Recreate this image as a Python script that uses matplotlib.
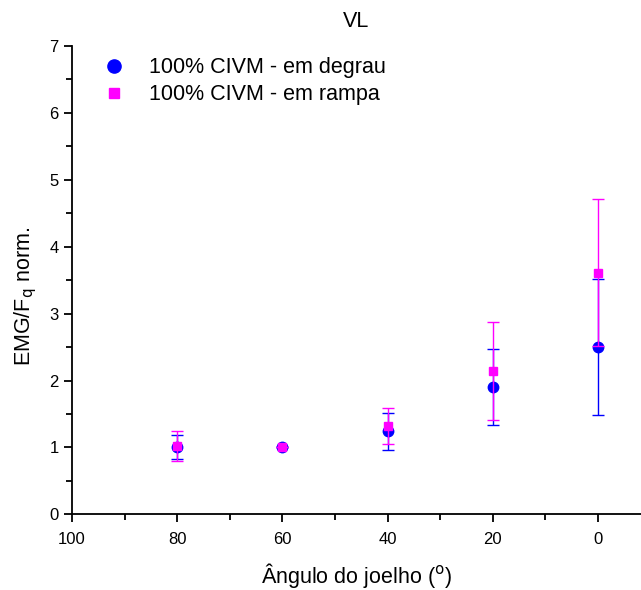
import matplotlib
matplotlib.use("Agg")
import matplotlib.pyplot as plt
from matplotlib.lines import Line2D
from matplotlib.ticker import MultipleLocator

plt.rcParams['font.family'] = ['Liberation Sans', 'DejaVu Sans']

# Knee angle (degrees)
angles = [80, 60, 40, 20, 0]

# 100% CIVM - step protocol
degrau_mean = [1.01, 1.00, 1.24, 1.90, 2.50]
degrau_err = [0.18, 0.00, 0.28, 0.57, 1.02]

# 100% CIVM - ramp protocol
rampa_mean = [1.02, 1.00, 1.32, 2.14, 3.61]
rampa_err = [0.22, 0.00, 0.27, 0.73, 1.10]

labels = ['100% CIVM - em degrau', '100% CIVM - em rampa']
blue = '#0000ff'
magenta = '#ff00ff'

fig = plt.figure(figsize=(6.41, 5.90), dpi=100)
ax = fig.add_axes([0.1123, 0.1283, 0.8877, 0.7937])

ax.errorbar(angles, degrau_mean, yerr=degrau_err, fmt='o', color=blue,
            ecolor=blue, markersize=7.5, capsize=4, elinewidth=1.0,
            capthick=1.0, zorder=3)
ax.errorbar(angles, rampa_mean, yerr=rampa_err, fmt='s', color=magenta,
            ecolor=magenta, markersize=6.3, capsize=4, elinewidth=1.0,
            capthick=1.0, zorder=4)

ax.set_xlim(100, -8.2)
ax.set_ylim(0, 7)
ax.xaxis.set_major_locator(MultipleLocator(20))
ax.xaxis.set_minor_locator(MultipleLocator(10))
ax.yaxis.set_major_locator(MultipleLocator(1))
ax.yaxis.set_minor_locator(MultipleLocator(0.5))

for side in ('top', 'right'):
    ax.spines[side].set_visible(False)
for side in ('left', 'bottom'):
    ax.spines[side].set_linewidth(1.3)

ax.tick_params(which='major', direction='out', length=6, width=1.3,
               labelsize=12)
ax.tick_params(axis='x', which='major', pad=6.5)
ax.tick_params(which='minor', direction='out', length=4, width=1.3)

ax.set_xlabel('Ângulo do joelho ($^{\\rm o}$)', fontsize=15.5, labelpad=10)
ax.set_ylabel('EMG/F$_{\\rm q}$ norm.', fontsize=15.5)
ax.yaxis.set_label_coords(-0.058, 0.466)
ax.set_title('VL', fontsize=15.5, pad=14)

handles = [
    Line2D([], [], linestyle='none', marker='o', markersize=9.5,
           color=blue),
    Line2D([], [], linestyle='none', marker='s', markersize=7.5,
           color=magenta),
]
ax.legend(handles, labels, loc='upper left', bbox_to_anchor=(0.021, 1.013),
          frameon=False, fontsize=15.5, handlelength=1.2,
          handletextpad=1.02, labelspacing=0.29, borderaxespad=0.4,
          borderpad=0.4)

fig.savefig('out.png', dpi=100)
